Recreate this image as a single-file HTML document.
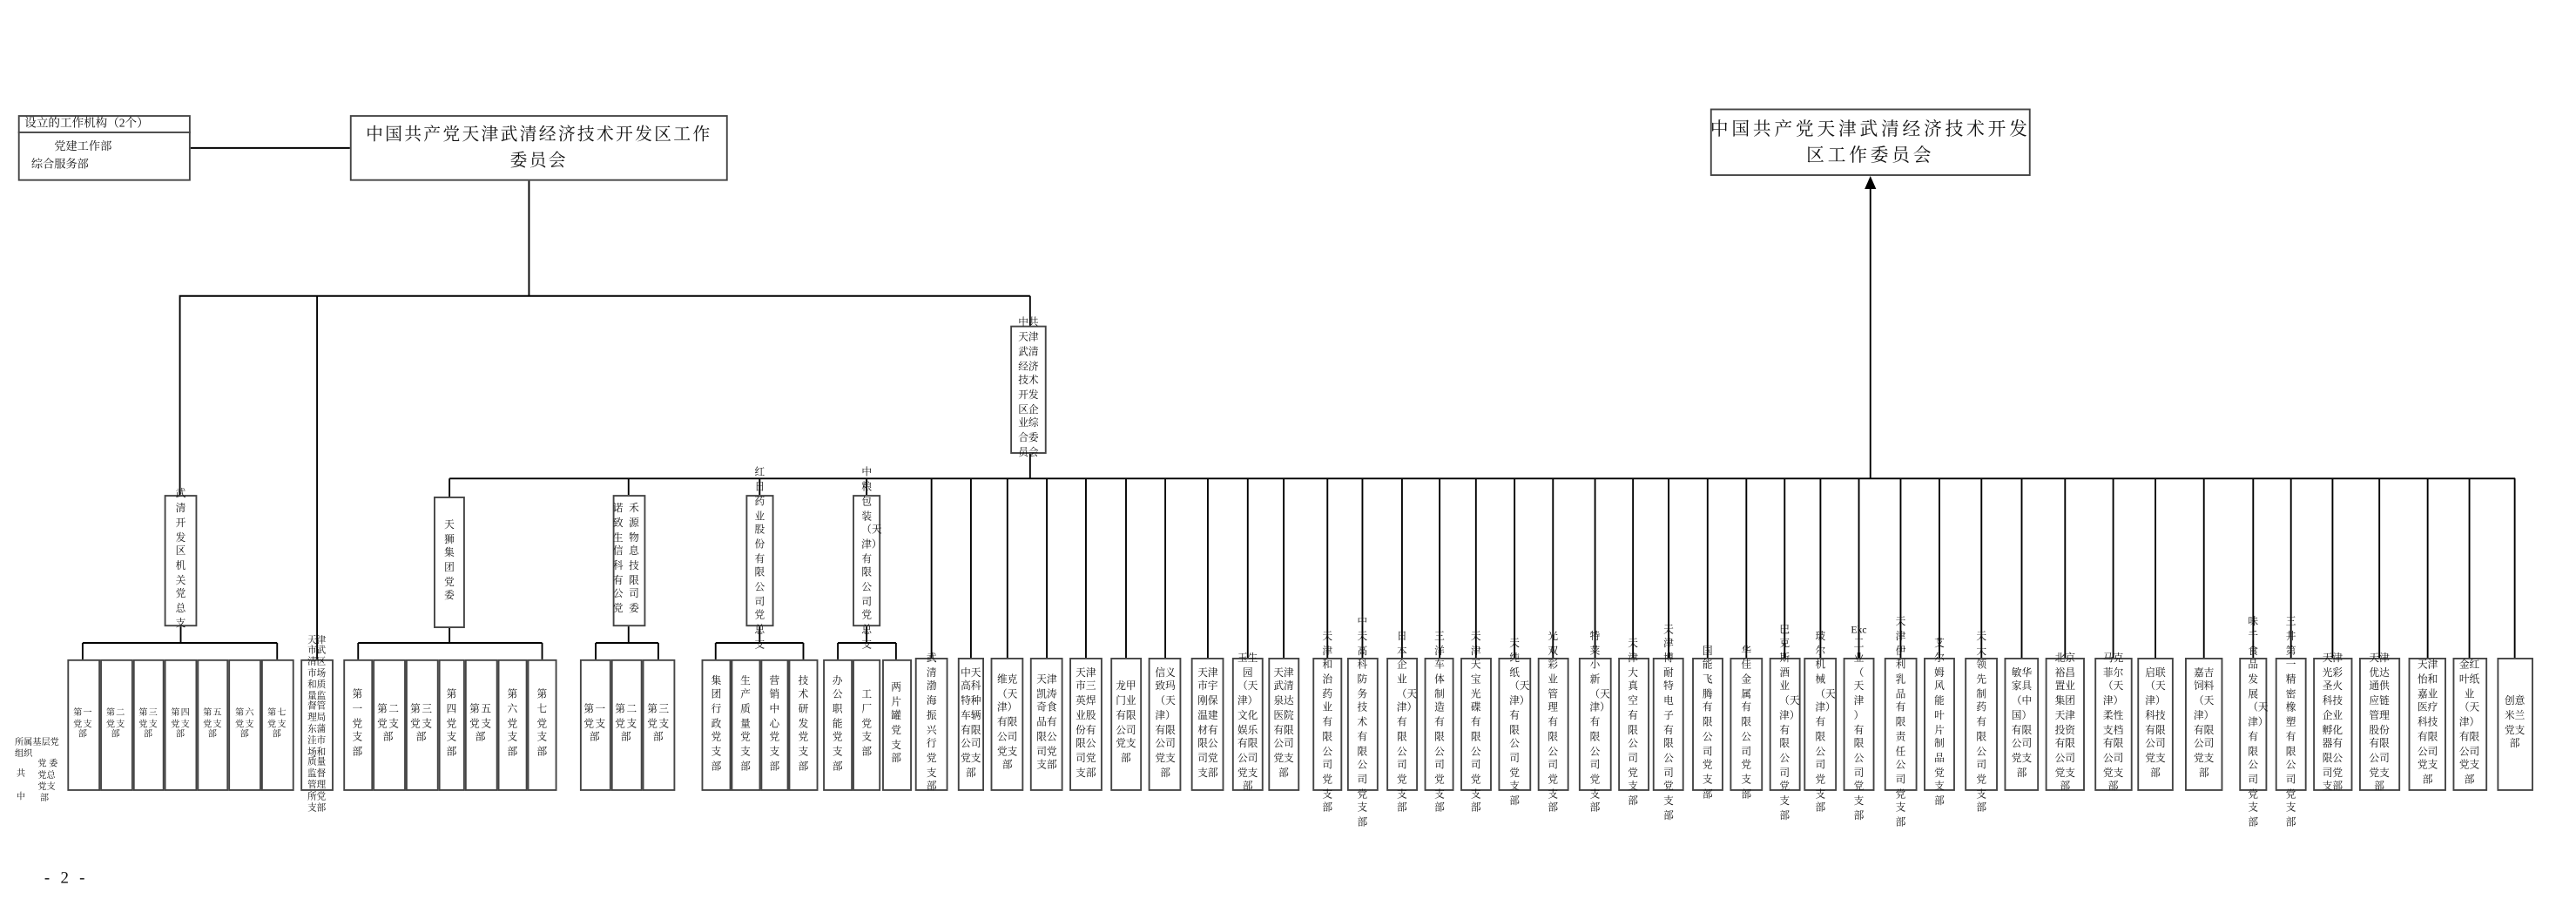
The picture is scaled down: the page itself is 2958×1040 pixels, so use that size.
<!DOCTYPE html>
<html><head><meta charset="utf-8">
<style>
html,body{margin:0;padding:0;background:#fff;}
body{width:2958px;height:1040px;overflow:hidden;position:relative;}
#c{position:absolute;left:0;top:0;width:1568px;height:551px;transform:scale(1.88648,1.88748);transform-origin:0 0;font-family:"Liberation Serif","Noto Serif CJK SC",serif;color:#111;}
svg{position:absolute;left:0;top:0;}
.b{position:absolute;top:400px;height:81px;border:0.9px solid #444;box-sizing:border-box;display:flex;align-items:center;justify-content:center;}
.b>div{font-size:6.2px;line-height:8.7px;text-align:center;white-space:nowrap;}
.v>div{width:6.4px;white-space:normal;word-break:break-all;}
.m{top:301px;height:80px;}
.s>div{font-size:5.4px;line-height:6.7px;letter-spacing:0.6px;}
.t{position:absolute;white-space:nowrap;}
</style></head><body><div id="c">
<svg width="1568" height="551" viewBox="0 0 1568 551">
<g stroke="#000" stroke-width="1" fill="none">
<path d="M116 90H213"/>
<path d="M322 110V180 M109 180H627 M109.5 180V301 M193 180V401 M627 180V198 M627 276V291 M273.6 291H1531"/>
<path d="M110 381V391 M50.3 391H168.7 M50.3 391V401 M168.7 391V401"/>
<path d="M273.6 291V302 M273.6 382V391 M218 391H330 M218 391V401 M330 391V401"/>
<path d="M382.6 291V301 M382.6 381V391 M362.6 391H400.7 M362.6 391V401 M400.7 391V401"/>
<path d="M462.4 291V301 M462.4 381V391 M435.6 391H489 M435.6 391V401 M489 391V401"/>
<path d="M527.5 291V301 M527.5 381V391 M510 391H545.4 M510 391V401 M545.4 391V401"/>
<path d="M567 291V400 M591 291V400 M613.2 291V400 M637.2 291V400 M661 291V400 M685.4 291V400 M709.3 291V400 M735.2 291V400 M759.5 291V400 M781.4 291V400 M808 291V400 M829.3 291V400 M853.4 291V400 M876.3 291V400 M898.4 291V400 M921.9 291V400 M945.3 291V400 M970.9 291V400 M994 291V400 M1015.7 291V400 M1039.4 291V400 M1063 291V400 M1086.3 291V400 M1108.1 291V400 M1131.5 291V400 M1156.9 291V400 M1180.5 291V400 M1206.1 291V400 M1230.6 291V400 M1257 291V400 M1286.3 291V400 M1312 291V400 M1341.5 291V400 M1371.5 291V400 M1394.5 291V400 M1419.8 291V400 M1448.3 291V400 M1477.7 291V400 M1503.1 291V400 M1530.7 291V400"/>
<path d="M1138.5 291V114"/>
</g>
<path d="M1138.5 107L1135 115L1142 115Z" fill="#000"/>
</svg>

<!-- top left small box -->
<div style="position:absolute;left:11px;top:70px;width:105px;height:40px;border:0.9px solid #444;box-sizing:border-box;"></div>
<div style="position:absolute;left:11px;top:80px;width:105px;height:0;border-top:0.9px solid #444;"></div>
<div class="t" style="left:15px;top:71px;font-size:7.2px;line-height:9px;">设立的工作机构（2个）</div>
<div class="t" style="left:33px;top:85px;font-size:7px;line-height:9px;">党建工作部</div>
<div class="t" style="left:19px;top:96px;font-size:7px;line-height:9px;">综合服务部</div>

<!-- main box -->
<div style="position:absolute;left:213px;top:70px;width:230px;height:40px;border:0.9px solid #444;box-sizing:border-box;"></div>
<div class="t" style="left:213px;width:230px;top:75px;font-size:10.5px;line-height:15.5px;text-align:center;letter-spacing:1.2px;">中国共产党天津武清经济技术开发区工作<br>委员会</div>

<!-- right box -->
<div style="position:absolute;left:1041px;top:66px;width:195px;height:41px;border:0.9px solid #444;box-sizing:border-box;"></div>
<div class="t" style="left:1041px;width:195px;top:71px;font-size:11px;line-height:16px;text-align:center;letter-spacing:2px;">中国共产党天津武清经济技术开发<br>区工作委员会</div>

<!-- second-level -->
<div class="b" style="left:615px;top:198px;width:22px;height:78px;"><div>中共<br>天津<br>武清<br>经济<br>技术<br>开发<br>区企<br>业综<br>合委<br>员会</div></div>
<div class="b v m" style="left:100px;width:20px;"><div>武清开发区机关党总支</div></div>

<div class="b v m" style="left:264px;top:302px;width:19px;"><div>天狮集团党委</div></div>
<div class="b m" style="left:373px;width:19.6px;"><div style="letter-spacing:3.5px;">诺禾<br>致源<br>生物<br>信息<br>科技<br>有限<br>公司<br>党委</div></div>
<div class="b v m" style="left:453.5px;width:17.8px;"><div>红日药业股份有限公司党总支</div></div>
<div class="b v m" style="left:518.6px;width:17.9px;"><div>中粮包装（天津）有限公司党总支</div></div>

<!-- group 1 -->
<div class="b s" style="left:40.6px;top:401px;width:20px;height:80px;"><div>第一<br>党支<br>部</div></div>
<div class="b s" style="left:60.6px;top:401px;width:20px;height:80px;"><div>第二<br>党支<br>部</div></div>
<div class="b s" style="left:80.6px;top:401px;width:19.7px;height:80px;"><div>第三<br>党支<br>部</div></div>
<div class="b s" style="left:100.3px;top:401px;width:19.5px;height:80px;"><div>第四<br>党支<br>部</div></div>
<div class="b s" style="left:119.8px;top:401px;width:19.5px;height:80px;"><div>第五<br>党支<br>部</div></div>
<div class="b s" style="left:139.3px;top:401px;width:19.7px;height:80px;"><div>第六<br>党支<br>部</div></div>
<div class="b s" style="left:159px;top:401px;width:19.5px;height:80px;"><div>第七<br>党支<br>部</div></div>

<div class="b" style="left:182.8px;top:401px;width:20px;height:80px;"><div style="font-size:5.6px;line-height:6.8px;">天津<br>市武<br>清区<br>市场<br>和质<br>量监<br>督管<br>理局<br>东蒲<br>洼市<br>场和<br>质量<br>监督<br>管理<br>所党<br>支部</div></div>

<div class="t" style="left:9px;top:449px;font-size:5.4px;line-height:6.6px;">所属基层党<br>组织</div>
<div class="t" style="left:10px;top:466px;font-size:5.4px;">共</div>
<div class="t" style="left:10px;top:480px;font-size:5.4px;">中</div>
<div class="t" style="left:23px;top:462px;font-size:5.4px;line-height:7px;">党 委<br>党总<br>党支<br>&nbsp;部</div>

<!-- group 2 -->
<div class="b v" style="left:208.5px;top:401px;width:18.1px;height:80px;"><div>第一党支部</div></div>
<div class="b" style="left:226.6px;top:401px;width:20px;height:80px;"><div style="letter-spacing:0.8px;">第二<br>党支<br>部</div></div>
<div class="b" style="left:246.6px;top:401px;width:20.3px;height:80px;"><div style="letter-spacing:0.8px;">第三<br>党支<br>部</div></div>
<div class="b v" style="left:266.9px;top:401px;width:15.9px;height:80px;"><div>第四党支部</div></div>
<div class="b" style="left:282.8px;top:401px;width:20px;height:80px;"><div style="letter-spacing:0.8px;">第五<br>党支<br>部</div></div>
<div class="b v" style="left:302.8px;top:401px;width:18.2px;height:80px;"><div>第六党支部</div></div>
<div class="b v" style="left:321px;top:401px;width:17.8px;height:80px;"><div>第七党支部</div></div>

<!-- group 3 -->
<div class="b" style="left:352.9px;top:401px;width:18.9px;height:80px;"><div style="letter-spacing:0.8px;">第一<br>党支<br>部</div></div>
<div class="b" style="left:371.8px;top:401px;width:19.2px;height:80px;"><div style="letter-spacing:0.8px;">第二<br>党支<br>部</div></div>
<div class="b" style="left:391px;top:401px;width:20px;height:80px;"><div style="letter-spacing:0.8px;">第三<br>党支<br>部</div></div>

<!-- 红日 children -->
<div class="b v" style="left:427.2px;top:401px;width:17.6px;height:80px;"><div>集团行政党支部</div></div>
<div class="b v" style="left:444.8px;top:401px;width:17.9px;height:80px;"><div>生产质量党支部</div></div>
<div class="b v" style="left:462.7px;top:401px;width:17.5px;height:80px;"><div>营销中心党支部</div></div>
<div class="b v" style="left:480.2px;top:401px;width:17.6px;height:80px;"><div>技术研发党支部</div></div>
<!-- 中粮 children -->
<div class="b v" style="left:501px;top:401px;width:17.6px;height:80px;"><div>办公职能党支部</div></div>
<div class="b v" style="left:518.6px;top:401px;width:17.9px;height:80px;"><div>工厂党支部</div></div>
<div class="b v" style="left:536.5px;top:401px;width:18.1px;height:80px;"><div>两片罐党支部</div></div>

<!-- single boxes -->
<div class="b v" style="left:557.3px;width:19.5px;"><div>武清渤海振兴行党支部</div></div>
<div class="b" style="left:582.7px;width:16.5px;"><div>中天<br>高科<br>特种<br>车辆<br>有限<br>公司<br>党支<br>部</div></div>
<div class="b" style="left:603px;width:20.3px;"><div>维克<br>（天<br>津）<br>有限<br>公司<br>党支<br>部</div></div>
<div class="b" style="left:627.3px;width:19.7px;"><div>天津<br>凯涛<br>奇食<br>品有<br>限公<br>司党<br>支部</div></div>
<div class="b" style="left:651px;width:19.9px;"><div>天津<br>市三<br>英焊<br>业股<br>份有<br>限公<br>司党<br>支部</div></div>
<div class="b" style="left:675.5px;width:19.7px;"><div>龙甲<br>门业<br>有限<br>公司<br>党支<br>部</div></div>
<div class="b" style="left:699.3px;width:20px;"><div>信义<br>致玛<br>（天<br>津）<br>有限<br>公司<br>党支<br>部</div></div>
<div class="b" style="left:725.2px;width:20px;"><div>天津<br>市宇<br>刚保<br>温建<br>材有<br>限公<br>司党<br>支部</div></div>
<div class="b" style="left:749.6px;width:19.7px;"><div>玉生<br>园<br>（天<br>津）<br>文化<br>娱乐<br>有限<br>公司<br>党支<br>部</div></div>
<div class="b" style="left:771.5px;width:19.7px;"><div>天津<br>武清<br>泉达<br>医院<br>有限<br>公司<br>党支<br>部</div></div>
<div class="b v" style="left:798.5px;width:18.9px;"><div>天津和治药业有限公司党支部</div></div>
<div class="b v" style="left:820px;width:18.5px;"><div>中天高科防务技术有限公司党支部</div></div>
<div class="b v" style="left:843.6px;width:19.5px;"><div>日本企业（天津）有限公司党支部</div></div>
<div class="b v" style="left:867.1px;width:18.3px;"><div>三洋车体制造有限公司党支部</div></div>
<div class="b v" style="left:888.7px;width:19.3px;"><div>天津天宝光碟有限公司党支部</div></div>
<div class="b v" style="left:912px;width:19.8px;"><div>天纯纸（天津）有限公司党支部</div></div>
<div class="b v" style="left:935.6px;width:19.3px;"><div>光双彩业管理有限公司党支部</div></div>
<div class="b v" style="left:961px;width:19.7px;"><div>特莱小新（天津）有限公司党支部</div></div>
<div class="b v" style="left:984.5px;width:19px;"><div>天津大真空有限公司党支部</div></div>
<div class="b v" style="left:1006px;width:19.3px;"><div>天津博耐特电子有限公司党支部</div></div>
<div class="b v" style="left:1029.6px;width:19.6px;"><div>国能飞腾有限公司党支部</div></div>
<div class="b v" style="left:1053.2px;width:19.5px;"><div>华佳金属有限公司党支部</div></div>
<div class="b v" style="left:1076.5px;width:19.5px;"><div>巴克斯酒业（天津）有限公司党支部</div></div>
<div class="b v" style="left:1098.3px;width:19.6px;"><div>玻尔机械（天津）有限公司党支部</div></div>
<div class="b" style="left:1121.7px;width:19.5px;"><div style="width:12px;white-space:normal;">Ekc<br>工<br>业<br>（<br>天<br>津<br>）<br>有<br>限<br>公<br>司<br>党<br>支<br>部</div></div>
<div class="b v" style="left:1147px;width:19.8px;"><div>天津伊利乳品有限责任公司党支部</div></div>
<div class="b v" style="left:1170.6px;width:19.8px;"><div>艾尔姆风能叶片制品党支部</div></div>
<div class="b v" style="left:1196.1px;width:20px;"><div>天大领先制药有限公司党支部</div></div>
<div class="b" style="left:1219.7px;width:21.8px;"><div>敏华<br>家具<br>（中<br>国）<br>有限<br>公司<br>党支<br>部</div></div>
<div class="b" style="left:1245.1px;width:23.8px;"><div>北京<br>裕昌<br>置业<br>集团<br>天津<br>投资<br>有限<br>公司<br>党支<br>部</div></div>
<div class="b" style="left:1274.5px;width:23.6px;"><div>马克<br>菲尔<br>（天<br>津）<br>柔性<br>支档<br>有限<br>公司<br>党支<br>部</div></div>
<div class="b" style="left:1300.7px;width:22.5px;"><div>启联<br>（天<br>津）<br>科技<br>有限<br>公司<br>党支<br>部</div></div>
<div class="b" style="left:1330.1px;width:22.8px;"><div>嘉吉<br>饲料<br>（天<br>津）<br>有限<br>公司<br>党支<br>部</div></div>
<div class="b v" style="left:1362.7px;width:17.6px;"><div>味千食品发展（天津）有限公司党支部</div></div>
<div class="b v" style="left:1385px;width:18.9px;"><div>三井第一精密橡塑有限公司党支部</div></div>
<div class="b" style="left:1407.5px;width:24.6px;"><div>天津<br>光彩<br>圣火<br>科技<br>企业<br>孵化<br>器有<br>限公<br>司党<br>支部</div></div>
<div class="b" style="left:1436px;width:24.5px;"><div>天津<br>优达<br>通供<br>应链<br>管理<br>股份<br>有限<br>公司<br>党支<br>部</div></div>
<div class="b" style="left:1466.2px;width:23px;"><div>天津<br>怡和<br>嘉业<br>医疗<br>科技<br>有限<br>公司<br>党支<br>部</div></div>
<div class="b" style="left:1492.6px;width:21px;"><div>金红<br>叶纸<br>业<br>（天<br>津）<br>有限<br>公司<br>党支<br>部</div></div>
<div class="b" style="left:1519.7px;width:22px;"><div>创意<br>米兰<br>党支<br>部</div></div>

<div class="t" style="left:27px;top:529px;font-size:10px;letter-spacing:2px;">- 2 -</div>
</div></body></html>
